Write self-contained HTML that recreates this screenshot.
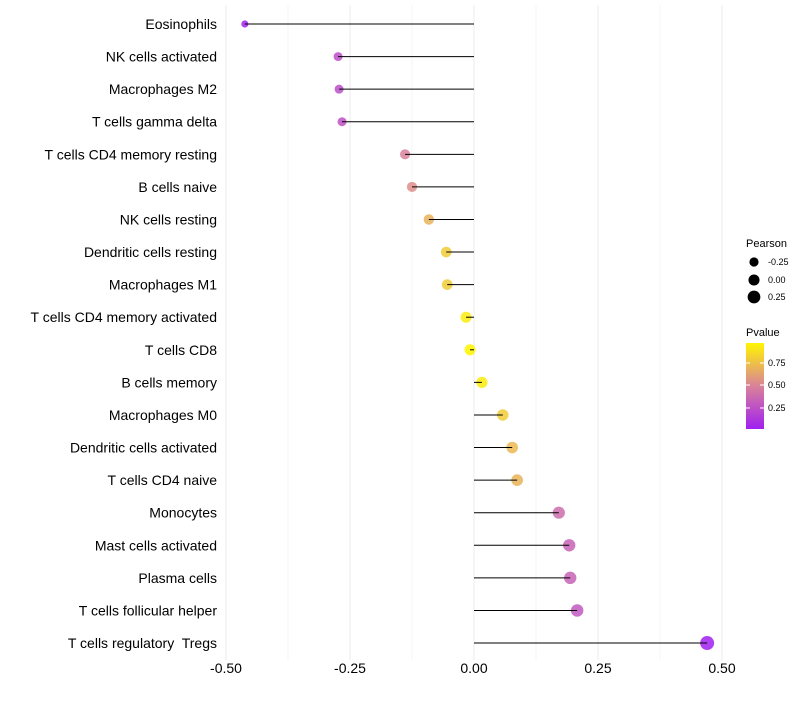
<!DOCTYPE html>
<html><head><meta charset="utf-8"><style>
body{margin:0;background:#fff;font-family:"Liberation Sans",sans-serif}
text{white-space:pre}
</style></head><body>
<svg id="chart" width="800" height="700" xmlns="http://www.w3.org/2000/svg"></svg>
<script>
const categories=["Eosinophils","NK cells activated","Macrophages M2","T cells gamma delta","T cells CD4 memory resting","B cells naive","NK cells resting","Dendritic cells resting","Macrophages M1","T cells CD4 memory activated","T cells CD8","B cells memory","Macrophages M0","Dendritic cells activated","T cells CD4 naive","Monocytes","Mast cells activated","Plasma cells","T cells follicular helper","T cells regulatory  Tregs"];
const pearson=[-0.462,-0.274,-0.272,-0.266,-0.139,-0.125,-0.091,-0.056,-0.054,-0.016,-0.008,0.016,0.058,0.077,0.087,0.171,0.192,0.194,0.208,0.470];
const pvalue=[0.05,0.25,0.25,0.27,0.5,0.55,0.7,0.8,0.8,0.93,0.97,0.93,0.8,0.72,0.7,0.4,0.35,0.35,0.3,0.03];
const xTicks=[-0.5,-0.25,0,0.25,0.5];
const xTickLabels=["-0.50","-0.25","0.00","0.25","0.50"];
const NS="http://www.w3.org/2000/svg";
const svg=document.getElementById('chart');
const x=v=>474+v*496;
const y=i=>24+i*32.58;
function mk(t,a,p){const e=document.createElementNS(NS,t);for(const k in a)e.setAttribute(k,a[k]);(p||svg).appendChild(e);return e;}
function lerp(a,b,t){return a+(b-a)*t}
function color(p){
  const stops=[[0,[160,32,240]],[0.5,[217,130,154]],[1,[255,245,0]]];
  const t=Math.max(0,Math.min(1,(p-0.03)/0.94));
  let s0=stops[0],s1=stops[1];if(t>0.5){s0=stops[1];s1=stops[2];}
  const u=(t-s0[0])/(s1[0]-s0[0]);
  return `rgb(${s0[1].map((c,i)=>Math.round(lerp(c,s1[1][i],u))).join(',')})`;
}
const rad=v=>Math.sqrt(Math.max(4,30.7+38.9*v));
for(let v=-0.5;v<=0.5001;v+=0.125){
  const g=mk('line',{x1:x(v),x2:x(v),y1:5,y2:660,stroke:'#ebebeb','stroke-width':Math.abs((v*4)%1)<1e-6?1:0.5});
  
}
xTicks.forEach((v,i)=>{
  const t=mk('text',{x:x(v),y:673,'text-anchor':'middle','font-size':14,fill:'#000'});
  t.textContent=xTickLabels[i];
  
});
categories.forEach((c,i)=>{
  const t=mk('text',{x:217,y:y(i)+5,'text-anchor':'end','font-size':14,fill:'#000'});
  t.textContent=c;
  
  const d=mk('circle',{cx:x(pearson[i]),cy:y(i),r:rad(pearson[i]),fill:color(pvalue[i]),'fill-opacity':0.85});
  
  const l=mk('line',{x1:x(0),x2:x(pearson[i]),y1:y(i),y2:y(i),stroke:'#000','stroke-width':1});
  
});
const lg=mk('g',{});
let tt=mk('text',{x:746,y:247,'font-size':11},lg);tt.textContent='Pearson';
[[-0.25,262],[0,280],[0.25,297]].forEach(([v,yy])=>{
  mk('circle',{cx:754,cy:yy,r:rad(v),fill:'#000'},lg);
  const t=mk('text',{x:768,y:yy+3,'font-size':9},lg);t.textContent=v.toFixed(2);
});
tt=mk('text',{x:746,y:336,'font-size':11},lg);tt.textContent='Pvalue';
const defs=mk('defs',{});
const gr=mk('linearGradient',{id:'pg',x1:0,y1:1,x2:0,y2:0},defs);
[0,0.25,0.5,0.75,1].forEach(o=>mk('stop',{offset:o,'stop-color':color(0.03+0.94*o)},gr));
mk('rect',{x:746,y:343,width:18,height:86,fill:'url(#pg)'},lg);
[[0.75,363],[0.50,385],[0.25,408]].forEach(([v,yy])=>{
  mk('line',{x1:746,x2:750,y1:yy,y2:yy,stroke:'#fff'},lg);mk('line',{x1:760,x2:764,y1:yy,y2:yy,stroke:'#fff'},lg);
  const t=mk('text',{x:768,y:yy+3,'font-size':9},lg);t.textContent=v.toFixed(2);
});
</script>
</body></html>
